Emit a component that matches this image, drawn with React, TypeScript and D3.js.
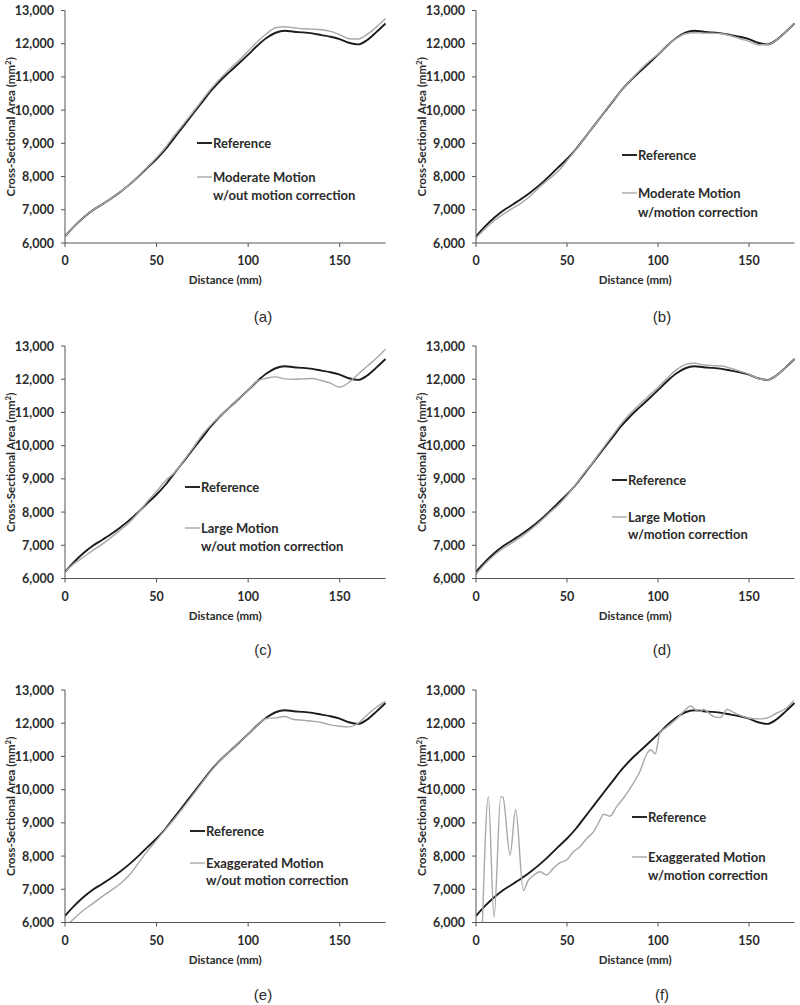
import React from 'react';
import * as d3 from 'd3';

// distance along the vessel (mm), sampled every 5 mm
const distance = [0, 5, 10, 15, 20, 25, 30, 35, 40, 45, 50, 55, 60, 65, 70, 75, 80, 85, 90, 95, 100,
  105, 110, 115, 120, 125, 130, 135, 140, 145, 150, 155, 160, 165, 170, 175];

const reference = [6200, 6500, 6760, 6980, 7150, 7330, 7530, 7750, 8000, 8270, 8530, 8830, 9190, 9540,
  9900, 10250, 10600, 10900, 11160, 11410, 11670, 11940, 12170, 12330, 12390, 12360, 12340, 12310,
  12260, 12210, 12140, 12030, 11980, 12110, 12350, 12610];

const moderateNoCorr = [6200, 6500, 6760, 6980, 7150, 7330, 7530, 7750, 8010, 8290, 8570, 8890, 9260,
  9600, 9950, 10310, 10660, 10970, 11240, 11500, 11780, 12060, 12300, 12480, 12510, 12480, 12450,
  12440, 12420, 12370, 12270, 12150, 12140, 12280, 12500, 12760];

const moderateCorr = [6150, 6430, 6670, 6870, 7040, 7210, 7420, 7690, 7920, 8150, 8480, 8820, 9190,
  9540, 9910, 10260, 10600, 10910, 11200, 11460, 11680, 11940, 12160, 12300, 12330, 12320, 12320,
  12300, 12240, 12150, 12070, 11970, 11970, 12110, 12350, 12610];

const largeNoCorr = [6200, 6450, 6640, 6840, 7020, 7230, 7450, 7680, 7980, 8320, 8620, 8950, 9200,
  9560, 9940, 10330, 10640, 10900, 11160, 11410, 11670, 11940, 12030, 12070, 12010, 12000, 12010,
  12020, 11960, 11880, 11760, 11900, 12150, 12390, 12630, 12900];

const largeCorr = [6120, 6440, 6700, 6910, 7080, 7260, 7470, 7700, 7960, 8200, 8500, 8840, 9210,
  9560, 9940, 10310, 10670, 10980, 11250, 11500, 11760, 12030, 12280, 12440, 12480, 12430, 12410,
  12400, 12330, 12240, 12150, 12030, 11980, 12110, 12350, 12620];

const exaggNoCorr = [5860, 6120, 6370, 6560, 6770, 6960, 7160, 7420, 7780, 8150, 8480, 8810, 9140,
  9490, 9850, 10220, 10580, 10890, 11160, 11410, 11670, 11940, 12140, 12160, 12200, 12110, 12090,
  12060, 12020, 11950, 11910, 11890, 12000, 12250, 12480, 12660];

// exaggerated motion with correction has its own, finer sampling
const exaggCorrDistance = [3.5, 6.8, 9.9, 13.6, 14.8, 18.7, 21.8, 26, 28.8, 30.4, 35.2, 38.8, 42.5,
  46.2, 49.8, 53.5, 57.1, 60.8, 64.5, 68.1, 70, 73.6, 77.3, 81, 86.4, 90, 93.6, 96, 98.5, 101, 104,
  109.6, 115, 117.8, 120.6, 123.4, 125, 128, 130.7, 134.3, 138, 140.7, 144.4, 150, 155.8, 159.5,
  165, 170.4, 174.5];
const exaggCorr = [5900, 9790, 6150, 9790, 9770, 8030, 9400, 6960, 7280, 7360, 7530, 7430, 7630,
  7800, 7880, 8130, 8280, 8530, 8730, 9080, 9260, 9200, 9490, 9740, 10190, 10540, 11050, 11200,
  11080, 11700, 11850, 12100, 12400, 12520, 12400, 12350, 12420, 12300, 12200, 12170, 12420,
  12350, 12250, 12150, 12130, 12150, 12300, 12450, 12680];

const yTicks = [6000, 7000, 8000, 9000, 10000, 11000, 12000, 13000];
const xTicks = [0, 50, 100, 150];

const font = 'Lato, "Open Sans", sans-serif';
const ink = '#2b2b2b';
const refColor = '#1c1c1c';
const grayColor = '#a8a8a8';

type PanelProps = {
  id: string; left: number; top: number; width: number; capBase: number;
  motion: string; corr: string; xs: number[]; ys: number[];
  leg: [number, number, number, number];
};

const H = 232.5;

const Panel = (p: PanelProps) => {
  const x = d3.scaleLinear().domain([0, 175]).range([0, p.width]);
  const y = d3.scaleLinear().domain([6000, 13000]).range([H, 0]);
  const line = d3.line<[number, number]>()
    .x(d => x(d[0])).y(d => y(d[1]))
    .curve(d3.curveMonotoneX);
  const refPath = line(distance.map((d, i) => [d, reference[i]] as [number, number])) || '';
  const grayPath = line(p.xs.map((d, i) => [d, p.ys[i]] as [number, number])) || '';
  const [lx, l1, l2, l3] = p.leg;

  return (
    <g transform={`translate(${p.left},${p.top})`}>
      <defs>
        <clipPath id={`clip-${p.id}`}>
          <rect x={0} y={0} width={p.width + 2} height={H} />
        </clipPath>
      </defs>
      <g clipPath={`url(#clip-${p.id})`} fill="none">
        <path d={refPath} stroke={refColor} strokeWidth={1.9} />
        <path d={grayPath} stroke={grayColor} strokeWidth={1.4} />
      </g>

      {/* axes */}
      <line x1={0} x2={0} y1={0} y2={H} stroke="#555" />
      <line x1={0} x2={p.width} y1={H} y2={H} stroke="#555" />
      {yTicks.map(t => (
        <g key={t}>
          <line x1={-4} x2={0} y1={y(t)} y2={y(t)} stroke="#555" />
          <text x={-11} y={y(t) + 4.5} textAnchor="end" fontSize={12.5} fontWeight={700}
            fontFamily={font} fill={ink}>{d3.format(',')(t)}</text>
        </g>
      ))}
      {xTicks.map(t => (
        <g key={t}>
          <line x1={x(t)} x2={x(t)} y1={H} y2={H + 4} stroke="#555" />
          <text x={x(t)} y={H + 22} textAnchor="middle" fontSize={12.5} fontWeight={700}
            fontFamily={font} fill={ink}>{t}</text>
        </g>
      ))}
      <text x={p.width / 2} y={H + 41} textAnchor="middle" fontSize={11.5} fontWeight={700}
        fontFamily={font} fill={ink}>Distance (mm)</text>
      <text transform={`translate(-50.5,${H / 2}) rotate(-90)`} textAnchor="middle" fontSize={11.5}
        fontWeight={700} fontFamily={font} fill={ink}>
        Cross-Sectional Area (mm<tspan fontSize={8} dy={-4}>2</tspan><tspan dy={4}>)</tspan>
      </text>

      {/* legend */}
      <line x1={lx} x2={lx + 15} y1={l1} y2={l1} stroke={refColor} strokeWidth={1.9} />
      <text x={lx + 16} y={l1 + 5} fontSize={13} fontWeight={700} fontFamily={font} fill={ink}>Reference</text>
      <line x1={lx} x2={lx + 15} y1={l2} y2={l2} stroke={grayColor} strokeWidth={1.4} />
      <text x={lx + 16} y={l2 + 5} fontSize={13} fontWeight={700} fontFamily={font} fill={ink}>{p.motion}</text>
      <text x={lx + 16} y={l3 + 5} fontSize={13} fontWeight={700} fontFamily={font} fill={ink}>{p.corr}</text>

      <text x={p.left < 200 ? 263 - p.left : 662 - p.left} y={p.capBase} textAnchor="middle"
        fontSize={15} fontFamily='"Liberation Sans", Arial, sans-serif' fill={ink}>({p.id})</text>
    </g>
  );
};

const panels: PanelProps[] = [
  { id: 'a', left: 65, top: 10.5, width: 320.5, capBase: 311.5, motion: 'Moderate Motion',
    corr: 'w/out motion correction', xs: distance, ys: moderateNoCorr, leg: [132, 132.5, 166.5, 184.5] },
  { id: 'b', left: 476, top: 10.5, width: 318.5, capBase: 311.5, motion: 'Moderate Motion',
    corr: 'w/motion correction', xs: distance, ys: moderateCorr, leg: [146, 144.5, 182.5, 201.5] },
  { id: 'c', left: 65, top: 346, width: 320.5, capBase: 309, motion: 'Large Motion',
    corr: 'w/out motion correction', xs: distance, ys: largeNoCorr, leg: [120, 141, 182, 200] },
  { id: 'd', left: 476, top: 346, width: 318.5, capBase: 309, motion: 'Large Motion',
    corr: 'w/motion correction', xs: distance, ys: largeCorr, leg: [136, 134, 171, 188] },
  { id: 'e', left: 65, top: 690, width: 320.5, capBase: 310, motion: 'Exaggerated Motion',
    corr: 'w/out motion correction', xs: distance, ys: exaggNoCorr, leg: [125, 141, 173, 190] },
  { id: 'f', left: 476, top: 690, width: 318.5, capBase: 310, motion: 'Exaggerated Motion',
    corr: 'w/motion correction', xs: exaggCorrDistance, ys: exaggCorr, leg: [156, 127, 167, 185] },
];

export default function App() {
  return (
    <div style={{ position: 'absolute', left: 0, top: 0 }}>
      <svg width={800} height={1005} style={{ display: 'block', background: '#fff' }}>
        {panels.map(p => <Panel key={p.id} {...p} />)}
      </svg>
    </div>
  );
}
